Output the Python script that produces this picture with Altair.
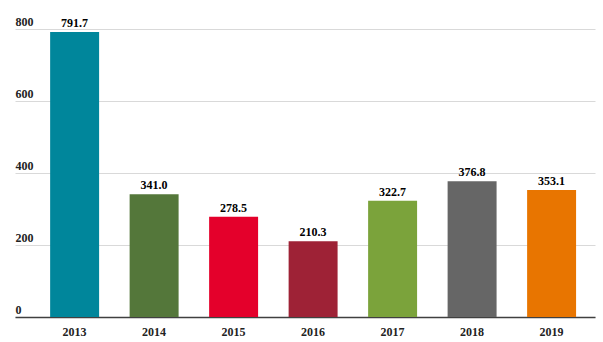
import altair as alt
import pandas as pd

years = ["2013", "2014", "2015", "2016", "2017", "2018", "2019"]
values = [791.7, 341.0, 278.5, 210.3, 322.7, 376.8, 353.1]
colors = ["#00869B", "#54773A", "#E4002B", "#9E2236", "#7BA33B", "#666666", "#E87500"]
labels = [f"{v:.1f}" for v in values]

df = pd.DataFrame({"year": years, "value": values, "label": labels})

FONT = "Liberation Serif"

x = alt.X(
    "year:N",
    sort=years,
    scale=alt.Scale(paddingInner=0.384, paddingOuter=0.34, align=0.65),
    axis=alt.Axis(
        title=None, labelAngle=0, ticks=False, tickSize=0, labelPadding=9,
        labelFont=FONT, labelFontWeight="bold", labelFontSize=12, labelColor="#222222",
        domain=True, domainColor="#404040", domainWidth=1.5, grid=False,
    ),
)
y = alt.Y(
    "value:Q",
    scale=alt.Scale(domain=[0, 800], nice=False),
    axis=alt.Axis(
        title=None, values=[0, 200, 400, 600, 800], ticks=False, tickSize=0,
        labelPadding=0, labelAlign="left", labelBaseline="bottom", labelOffset=-1,
        labelFont=FONT, labelFontWeight="bold", labelFontSize=12, labelColor="#222222",
        domain=False, grid=True, gridColor="#d9d9d9", gridWidth=1,
    ),
)

bars = alt.Chart(df).mark_bar().encode(
    x=x,
    y=y,
    color=alt.Color("year:N", scale=alt.Scale(domain=years, range=colors), legend=None),
)

text = alt.Chart(df).mark_text(
    baseline="bottom", dy=-2, font=FONT, fontWeight="bold", fontSize=12, color="#000000"
).encode(
    x=alt.X("year:N", sort=years),
    y=alt.Y("value:Q"),
    text="label:N",
)

chart = (
    alt.layer(bars, text)
    .properties(
        width=580,
        height=288,
        autosize=alt.AutoSizeParams(type="none"),
        padding={"left": 15, "top": 29, "right": 8, "bottom": 25},
        background="white",
    )
    .configure_view(stroke=None)
)

chart.save("out.html", embed_options={"renderer": "svg", "actions": False})
